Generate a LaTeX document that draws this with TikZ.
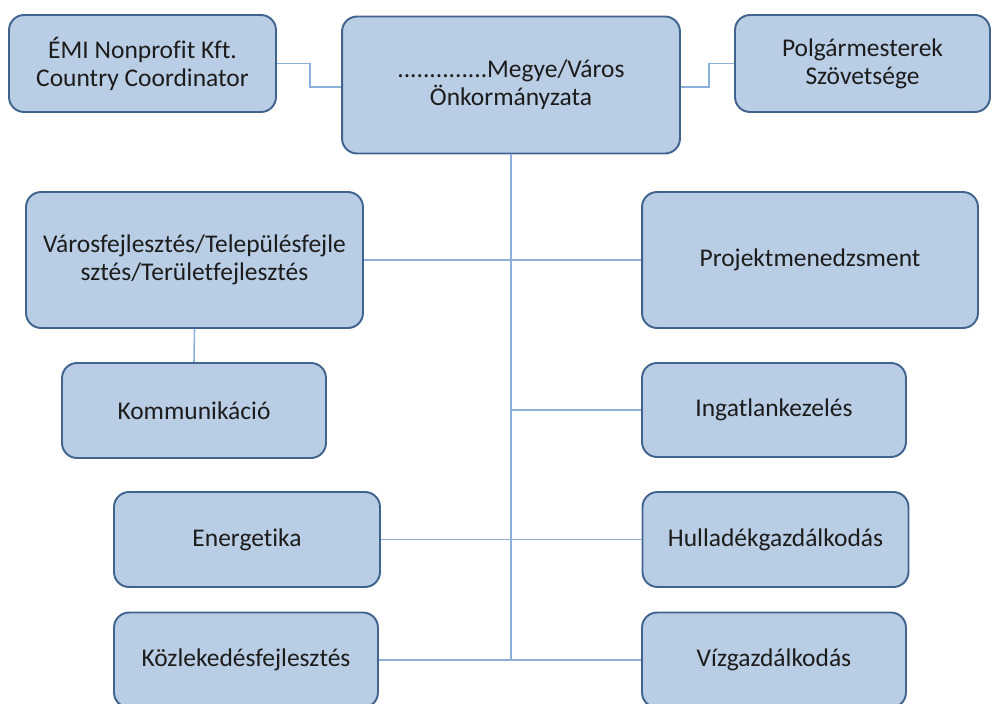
\documentclass[tikz,border=0pt]{standalone}
\usepackage{fontspec}
\setmainfont[Ligatures=NoCommon]{Carlito}
\usetikzlibrary{positioning}
\definecolor{boxfill}{HTML}{B9CDE5}
\definecolor{boxline}{HTML}{41648F}
\definecolor{linkline}{HTML}{8DB0DB}
\definecolor{boxtext}{HTML}{1C1C1C}
\begin{document}
\begin{tikzpicture}[x=0.02cm,y=-0.02cm,
                    unit/.style={draw=boxline,fill=boxfill,line width=1.1pt,rounded corners=0.3cm,
                        text=boxtext,align=center,inner sep=0pt,
                        font=\fontsize{14.5}{16}\selectfont},
                    link/.style={draw=linkline,line width=0.9pt}]
                    \clip (0,0) rectangle (992,704);
                    \node[unit,minimum width=5.34cm,minimum height=1.94cm] (emi) at (142.5,63.5)
                        {ÉMI Nonprofit Kft.\\Country Coordinator};
                    \node[unit,minimum width=6.76cm,minimum height=2.74cm] (megye) at (511,85)
                        {..............Megye/Város\\Önkormányzata};
                    \node[unit,minimum width=5.1cm,minimum height=1.94cm] (polg) at (862.5,63.5)
                        {Polgármesterek\\Szövetsége};
                    \node[unit,minimum width=6.74cm,minimum height=2.72cm] (varos) at (194.5,260)
                        {Városfejlesztés/Településfejle\\sztés/Területfejlesztés};
                    \node[unit,minimum width=6.72cm,minimum height=2.72cm] (proj) at (810,260)
                        {Projektmenedzsment};
                    \node[unit,minimum width=5.28cm,minimum height=1.9cm] (komm) at (194,410.5)
                        {Kommunikáció};
                    \node[unit,minimum width=5.28cm,minimum height=1.88cm] (ingat) at (774,410)
                        {Ingatlankezelés};
                    \node[unit,minimum width=5.32cm,minimum height=1.9cm] (energ) at (247,539.5)
                        {Energetika};
                    \node[unit,minimum width=5.32cm,minimum height=1.9cm] (hull) at (775.5,539.5)
                        {Hulladékgazdálkodás};
                    \node[unit,minimum width=5.28cm,minimum height=1.9cm] (kozl) at (246,660)
                        {Közlekedésfejlesztés};
                    \node[unit,minimum width=5.28cm,minimum height=1.9cm] (viz) at (774,660)
                        {Vízgazdálkodás};
                    \coordinate (trunk) at (511,661);
                    \draw[link] (emi.east) -- ++(33,0) |- ([yshift=-0.04cm]megye.west);
                    \draw[link] ([yshift=-0.04cm]megye.east) -- ++(28,0) |- (polg.west);
                    \draw[link] (megye.south) -- (trunk);
                    \draw[link] (varos.east) -- (proj.west);
                    \draw[link] (varos.south) -- (komm.north);
                    \draw[link] (ingat.west) -- (ingat.west -| trunk);
                    \draw[link] (energ.east) -- (hull.west);
                    \draw[link] (kozl.east) -- (viz.west);
                \end{tikzpicture}
\end{document}
